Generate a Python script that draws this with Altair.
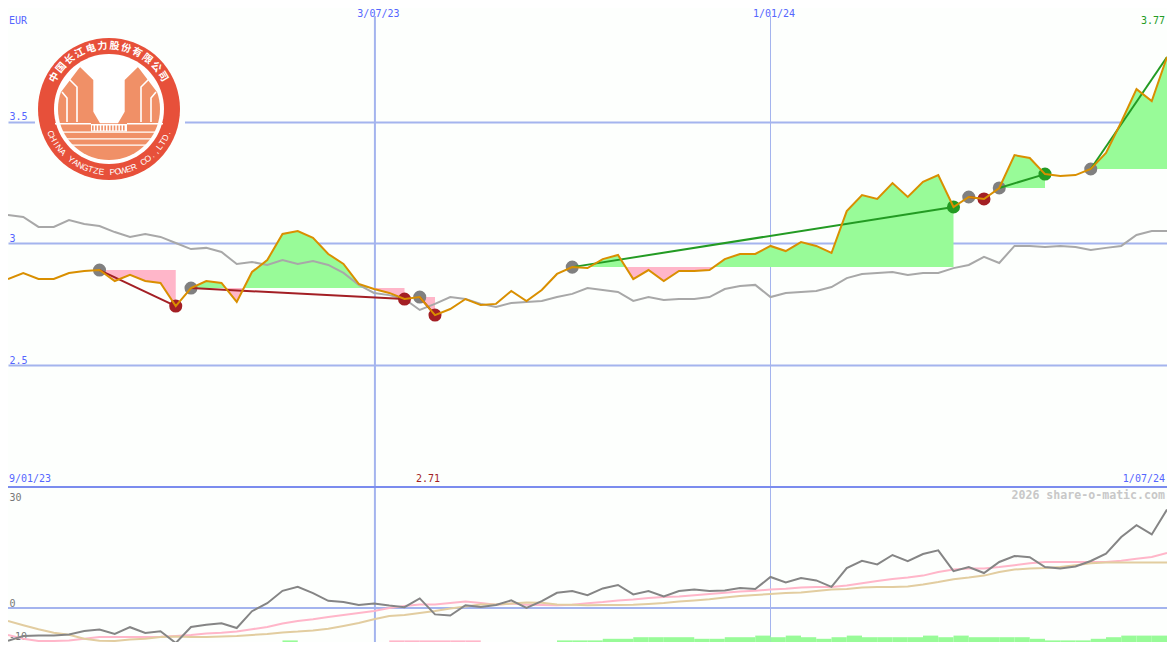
import math
import altair as alt
import pandas as pd

# ---------- data ----------
price = [2.854,2.879,2.854,2.854,2.879,2.887,2.891,2.846,2.871,2.846,2.838,2.743,2.817,2.846,2.838,2.760,2.883,2.932,3.039,3.051,
         3.023,2.957,2.916,2.834,2.813,2.797,2.772,2.780,2.706,2.731,2.772,2.747,2.752,2.805,2.764,2.809,2.875,2.903,2.899,2.936,
         2.953,2.854,2.891,2.846,2.887,2.887,2.891,2.936,2.957,2.957,2.990,2.969,3.006,2.990,2.961,3.133,3.199,3.183,3.248,3.191,
         3.253,3.281,3.150,3.191,3.183,3.228,3.363,3.351,3.285,3.277,3.281,3.306,3.372,3.499,3.634,3.585,3.766]
average = [3.117,3.109,3.068,3.068,3.096,3.080,3.072,3.047,3.027,3.039,3.027,3.002,2.977,2.982,2.965,2.916,2.924,2.912,2.932,2.916,
           2.928,2.912,2.879,2.830,2.797,2.788,2.772,2.727,2.752,2.780,2.772,2.752,2.739,2.756,2.760,2.764,2.780,2.793,2.817,2.809,
           2.801,2.764,2.780,2.768,2.772,2.772,2.780,2.813,2.825,2.830,2.780,2.797,2.801,2.805,2.821,2.858,2.875,2.879,2.883,2.871,
           2.879,2.879,2.899,2.912,2.945,2.920,2.990,2.990,2.986,2.990,2.986,2.973,2.982,2.990,3.035,3.051,3.051]
momentum = [-8.2,-7,-6.9,-6.9,-6.6,-5.75,-5.4,-6.5,-4.8,-6.25,-5.8,-8.75,-4.75,-4.2,-3.8,-5,-0.8,1.2,4.3,5.3,3.7,1.8,1.5,0.75,1.1,0.6,
            0.2,2.4,-1.6,-1.9,0.7,0.25,0.75,1.9,0,1.7,3.8,4.25,3.2,4.9,5.75,3.4,4.25,2.9,4.25,4.6,4.25,4.4,5,4.75,7.75,6.4,7.5,6.9,5.3,
            10,11.8,10.9,13.25,11.7,13.5,14.4,9.2,10.25,8.75,11.5,13,12.7,10.25,9.9,10.4,11.75,13.6,17.75,20.7,18.4,24.6]
signal_pink = [-6.75,-7.7,-8.25,-8.25,-8.1,-7.7,-7.25,-7.25,-7.25,-7.25,-7.2,-7,-6.75,-6.4,-6.2,-5.9,-5.3,-4.75,-3.9,-3.25,-2.8,-2.25,-1.75,-1.25,-0.75,0,
               0.5,0.9,0.9,1.25,1.6,1.25,0.8,1.1,0.8,0.75,0.7,0.8,1.2,1.5,1.9,2.1,2.5,2.75,2.9,3.2,3.5,3.8,4.1,4.3,4.6,4.8,5.1,5.25,5.25,
               5.6,6.2,6.75,7.25,7.6,8.1,9,9.6,9.9,9.9,10.25,10.7,11.2,11.5,11.5,11.5,11.5,11.5,11.8,12.3,12.75,13.75]
signal_tan = [-3.25,-4.3,-5.3,-6.2,-6.7,-7.7,-8.2,-8.25,-7.9,-7.7,-7.25,-7.1,-7.25,-7.25,-7.1,-7,-6.75,-6.5,-6.1,-5.9,-5.6,-5.2,-4.5,-3.75,-2.8,-2,
              -1.75,-1.25,-0.75,-0.1,0.4,0.9,0.9,1.1,1.4,1.3,0.9,0.8,0.7,0.75,0.75,0.8,1,1.25,1.6,1.9,2.2,2.6,3,3.25,3.5,3.75,3.9,4.25,4.6,
              4.75,5.1,5.25,5.25,5.4,5.9,6.5,7.2,7.6,8.1,9,9.6,9.9,10,10.25,10.7,11.2,11.4,11.4,11.4,11.4,11.4]
# weekly histogram level (+ green, - pink)
histogram = [0]*18 + [1] + [0]*6 + [-1]*6 + [0]*5 + [1,1,1,2,2,3,3,3,3,2,2,3,3,4,3,4,3,2,3,4,3,3,3,3,4,3,4,3,3,3,3,2,1,1,1,2,3,4,4,4]
# trades: start week, end week, won?, still open?
trade_start = [6, 12, 27, 37, 63, 65, 71]
trade_end = [11, 26, 28, 62, 64, 68, 76]
trade_won = [False, False, False, True, False, True, True]
trade_open = [False, False, False, False, False, False, True]
date_weeks = [24.06, 50.0]
date_labels = ["3/07/23", "1/01/24"]
price_ticks = [2.5, 3, 3.5]
lower_ticks = [0, 30]

# ---------- style ----------
BG = "#fdfffd"; GRID = "#a4b4ee"; EDGE = "#7b8cee"; BLUE = "#5566ff"
ORANGE = "#d98f00"; GRAY = "#a8a8a8"; DARK = "#858585"; PINK = "#ffb6c9"; TAN = "#e2cda0"
FGREEN = "#98fb98"; WIN = "#239b23"; LOSS = "#a31f24"; TICK = "#777777"
MONO = "DejaVu Sans Mono"
M = 8                      # page margin
W, H = 1175 - 2 * M, 650 - 2 * M
SPLIT = 487 - M
LOW_MIN = -8.5

xs = alt.Scale(domain=[0, 76], nice=False, zero=False)
ys1 = alt.Scale(domain=[2.0, 4.0 - M / 243.5], range=[SPLIT, 0], nice=False, zero=False)
ys2 = alt.Scale(domain=[LOW_MIN, 30.25], range=[H, SPLIT], nice=False, zero=False)

AX = alt.Axis(orient="top", values=date_weeks, domain=False, ticks=False, grid=False, title=None,
              labelExpr="datum.value < 30 ? '%s' : '%s'" % tuple(date_labels),
              labelPadding=-8, labelBaseline="alphabetic", labelOffset=3, labelColor=BLUE,
              labelFont=MONO, labelFontSize=10, labelOverlap=False, zindex=0)
AY1 = alt.Axis(orient="left", values=price_ticks, domain=False, ticks=False, title=None,
               grid=True, gridColor=GRID, gridWidth=2, gridOpacity=1,
               labelExpr="''+datum.value", labelAlign="left", labelPadding=-1,
               labelBaseline="alphabetic", labelOffset=-2, labelColor=BLUE, labelFont=MONO,
               labelFontSize=10, zindex=0)
AY2 = alt.Axis(orient="left", values=lower_ticks, domain=False, ticks=False, grid=False, title=None,
               labelExpr="''+datum.value", labelAlign="left", labelPadding=-1,
               labelBaseline="alphabetic",
               labelOffset={"condition": {"test": "datum.value == 30", "value": 12}, "value": -2},
               labelColor=TICK, labelFont=MONO, labelFontSize=10, zindex=0)
X = lambda f="i": alt.X(f"{f}:Q", scale=xs, axis=AX)
Y1 = lambda f: alt.Y(f"{f}:Q", scale=ys1, axis=AY1)
Y2 = lambda f: alt.Y(f"{f}:Q", scale=ys2, axis=AY2)
one = pd.DataFrame({"a": [0]})
weeks = list(range(len(price)))
top = pd.DataFrame({"i": weeks, "price": price, "average": average})
low = pd.DataFrame({"i": weeks, "m": momentum, "p": signal_pink, "t": signal_tan})


def label(text, px, py, color, align="left", size=10, weight="normal"):
    return alt.Chart(one).mark_text(text=text, align=align, baseline="middle", font=MONO, fontSize=size,
                                    fontWeight=weight, color=color).encode(x=alt.value(px - M), y=alt.value(py - M))


# fills between the price and the entry level of each trade
rows = []
for t, (s, e) in enumerate(zip(trade_start, trade_end)):
    b = price[s]
    for i in range(s, e + 1):
        rows.append((t, i, price[i], b))
        if i < e and (price[i] - b) * (price[i + 1] - b) < 0:
            rows.append((t, i + (b - price[i]) / (price[i + 1] - price[i]), b, b))
fill = pd.DataFrame(rows, columns=["t", "i", "p", "b"])
fill["up"] = fill[["p", "b"]].max(axis=1)
fill["dn"] = fill[["p", "b"]].min(axis=1)

legs = []
for t, (s, e, w) in enumerate(zip(trade_start, trade_end, trade_won)):
    legs += [dict(t=t, i=s, p=price[s], c=WIN if w else LOSS), dict(t=t, i=e, p=price[e], c=WIN if w else LOSS)]
legs = pd.DataFrame(legs)
starts = pd.DataFrame({"i": trade_start, "p": [price[s] for s in trade_start]})
ends = pd.DataFrame([dict(i=e, p=price[e], c=WIN if w else LOSS)
                     for e, w, o in zip(trade_end, trade_won, trade_open) if not o])

# ---------- logo ----------
CX, CY, R = 109 - M, 109 - M, 71


def poly(*pieces):
    out = ""
    for pts in pieces:
        out += "M" + "L".join(f"{x / R:.4f},{y / R:.4f}" for x, y in pts) + "Z"
    return out


def circle(r):
    return poly([(r * math.cos(a * math.pi / 36), r * math.sin(a * math.pi / 36)) for a in range(72)])


def logo_shape(path, color):
    return alt.Chart(one).mark_point(shape=path, size=(2 * R) ** 2, filled=True, fill=color, opacity=1, strokeWidth=0).encode(
        x=alt.value(CX), y=alt.value(CY))


def logo_strokes(path, width=1.6):
    return alt.Chart(one).mark_point(shape=path, size=(2 * R) ** 2, filled=False, stroke="#ffffff", opacity=1, strokeWidth=width).encode(
        x=alt.value(CX), y=alt.value(CY))


def rect(x0, x1, y0, y1):
    return [(x0, y0), (x1, y0), (x1, y1), (x0, y1)]


def strip(y0, y1):
    hw = math.sqrt(max(0, 53.5 ** 2 - y1 ** 2))
    return rect(-hw, hw, y0, y1)


arc_top = [(53.5 * math.cos(a * math.pi / 180), 53.5 * math.sin(a * math.pi / 180)) for a in range(-20, -161, -5)]
upper_white = [(-29, -42), (-15.7, -29), (-15.7, 2.7), (-9, 14.3), (9, 14.3), (15.7, 2.7), (15.7, -29), (29, -42),
               (48, -17)] + arc_top + [(-48, -17)]
left1 = [(-41, -31), (-32, -22), (-32, 13)]
left2 = [(-47, -17), (-42, -11), (-42, 13)]
lines = "M" + "L".join(f"{x/R:.4f},{y/R:.4f}" for x, y in left1) + "M" + "L".join(f"{x/R:.4f},{y/R:.4f}" for x, y in left2)
lines += "M" + "L".join(f"{-x/R:.4f},{y/R:.4f}" for x, y in left1) + "M" + "L".join(f"{-x/R:.4f},{y/R:.4f}" for x, y in left2)

cn = "中国长江电力股份有限公司"
en = "CHINA YANGTZE POWER CO.,LTD."
chars = []
for k, c in enumerate(cn):
    th = -60 + k * 119 / (len(cn) - 1)
    a = math.radians(th)
    chars.append(dict(c=c, px=CX + 63 * math.sin(a), py=CY - 63 * math.cos(a), a=th % 360))
cn_df = pd.DataFrame(chars)
chars = []
for k, c in enumerate(en):
    ph = 67 - k * 135 / (len(en) - 1)
    a = math.radians(ph)
    chars.append(dict(c=c, px=CX - 63 * math.sin(a), py=CY + 63 * math.cos(a), a=ph % 360))
en_df = pd.DataFrame(chars)


def ring_text(df, font, size, weight):
    return alt.Chart(df).mark_text(font=font, fontSize=size, fontWeight=weight, color="#ffffff", align="center", baseline="middle").encode(
        x=alt.X("px:Q", scale=None, axis=None), y=alt.Y("py:Q", scale=None, axis=None),
        angle=alt.Angle("a:Q", scale=None), text="c:N")


logo = [
    alt.Chart(one).mark_rect(color=BG).encode(x=alt.value(35 - M), x2=alt.value(185 - M), y=alt.value(35 - M), y2=alt.value(185 - M)),
    logo_shape(circle(71), "#e7503a"),
    logo_shape(circle(55), "#ffffff"),
    logo_shape(circle(51), "#f09067"),
    logo_shape(poly(upper_white), "#ffffff"),
    logo_strokes(lines),
    logo_shape(poly(rect(-54, -18, 14, 15.5), rect(18, 54, 14, 15.5), strip(22.6, 23.8), strip(29.3, 30.6), strip(35.5, 36.8)), "#ffffff"),
    logo_shape(poly(rect(-18, 18, 15, 22.6)), "#ffffff"),
    logo_shape(poly(*[rect(-17 + 3.1 * n, -15.4 + 3.1 * n, 16.5, 21.5) for n in range(11)]), "#f09067"),
    ring_text(cn_df, "Noto Sans CJK SC", 10, "bold"),
    ring_text(en_df, "Liberation Sans", 8.5, "normal"),
]

# ---------- top panel ----------
v1 = pd.DataFrame({"i": date_weeks, "w": [2, 1]})
vert = alt.Chart(v1).mark_rule(color=GRID).encode(x=X(), y=alt.value(16 - M), y2=alt.value(H), strokeWidth=alt.StrokeWidth("w:Q", scale=None))

green = alt.Chart(fill).mark_area(color=FGREEN, opacity=1, interpolate="linear").encode(x=X(), y=Y1("up"), y2="b:Q", detail="t:N")
pink = alt.Chart(fill).mark_area(color=PINK, opacity=1, interpolate="linear").encode(x=X(), y=Y1("dn"), y2="b:Q", detail="t:N")
avg_line = alt.Chart(top).mark_line(color=GRAY, strokeWidth=2).encode(x=X(), y=Y1("average"))
start_dots = alt.Chart(starts).mark_point(filled=True, size=170, color="#808080", opacity=1).encode(x=X(), y=Y1("p"))
end_dots = alt.Chart(ends).mark_point(filled=True, size=170, opacity=1).encode(x=X(), y=Y1("p"), color=alt.Color("c:N", scale=None))
trade_lines = alt.Chart(legs).mark_line(strokeWidth=2).encode(x=X(), y=Y1("p"), detail="t:N", color=alt.Color("c:N", scale=None))
price_line = alt.Chart(top).mark_line(color=ORANGE, strokeWidth=2).encode(x=X(), y=Y1("price"))
divider = alt.Chart(one).mark_rule(color=EDGE, strokeWidth=2).encode(x=alt.value(0), x2=alt.value(W), y=alt.value(SPLIT))

top_panel = alt.layer(
    green, pink, avg_line, start_dots, end_dots, trade_lines, price_line, divider,
    *logo,
    label("EUR", 9, 21, BLUE),
    label("3.77", 1165, 21, WIN, "right"),
    label("9/01/23", 9, 479, BLUE),
    label("2.71", 428, 479, LOSS, "center"),
    label("1/07/24", 1165, 479, BLUE, "right"),
)

# ---------- lower panel ----------
bars = pd.DataFrame([dict(i=i, i2=i + 1, top=LOW_MIN + 0.4 * abs(h), base=LOW_MIN, c=FGREEN if h > 0 else PINK)
                     for i, h in enumerate(histogram) if h != 0])
zero = alt.Chart(pd.DataFrame({"y": [0]})).mark_rule(color=GRID, strokeWidth=2).encode(y=Y2("y"), x=alt.value(0), x2=alt.value(W))
hist = alt.Chart(bars).mark_rect(opacity=1).encode(x=X(), x2="i2:Q", y=Y2("top"), y2="base:Q", color=alt.Color("c:N", scale=None))
l_pink = alt.Chart(low).mark_line(color=PINK, strokeWidth=2).encode(x=X(), y=Y2("p"))
l_tan = alt.Chart(low).mark_line(color=TAN, strokeWidth=2).encode(x=X(), y=Y2("t"))
l_mom = alt.Chart(low).mark_line(color=DARK, strokeWidth=2).encode(x=X(), y=Y2("m"))

low_panel = alt.layer(
    label("-10", 9, 637, TICK),
    zero, hist, l_pink, l_tan, l_mom,
    label("2026 share-o-matic.com", 1165, 496, "#c8c8c8", "right", 11.6, "bold"),
)

chart = alt.layer(vert, top_panel, low_panel).resolve_scale(y="independent").properties(
    width=W, height=H, padding=0, background=BG,
    autosize=alt.AutoSizeParams(type="none", contains="padding"),
).configure_view(stroke=None)

chart.save("out.html", embed_options={"renderer": "svg", "actions": False})
